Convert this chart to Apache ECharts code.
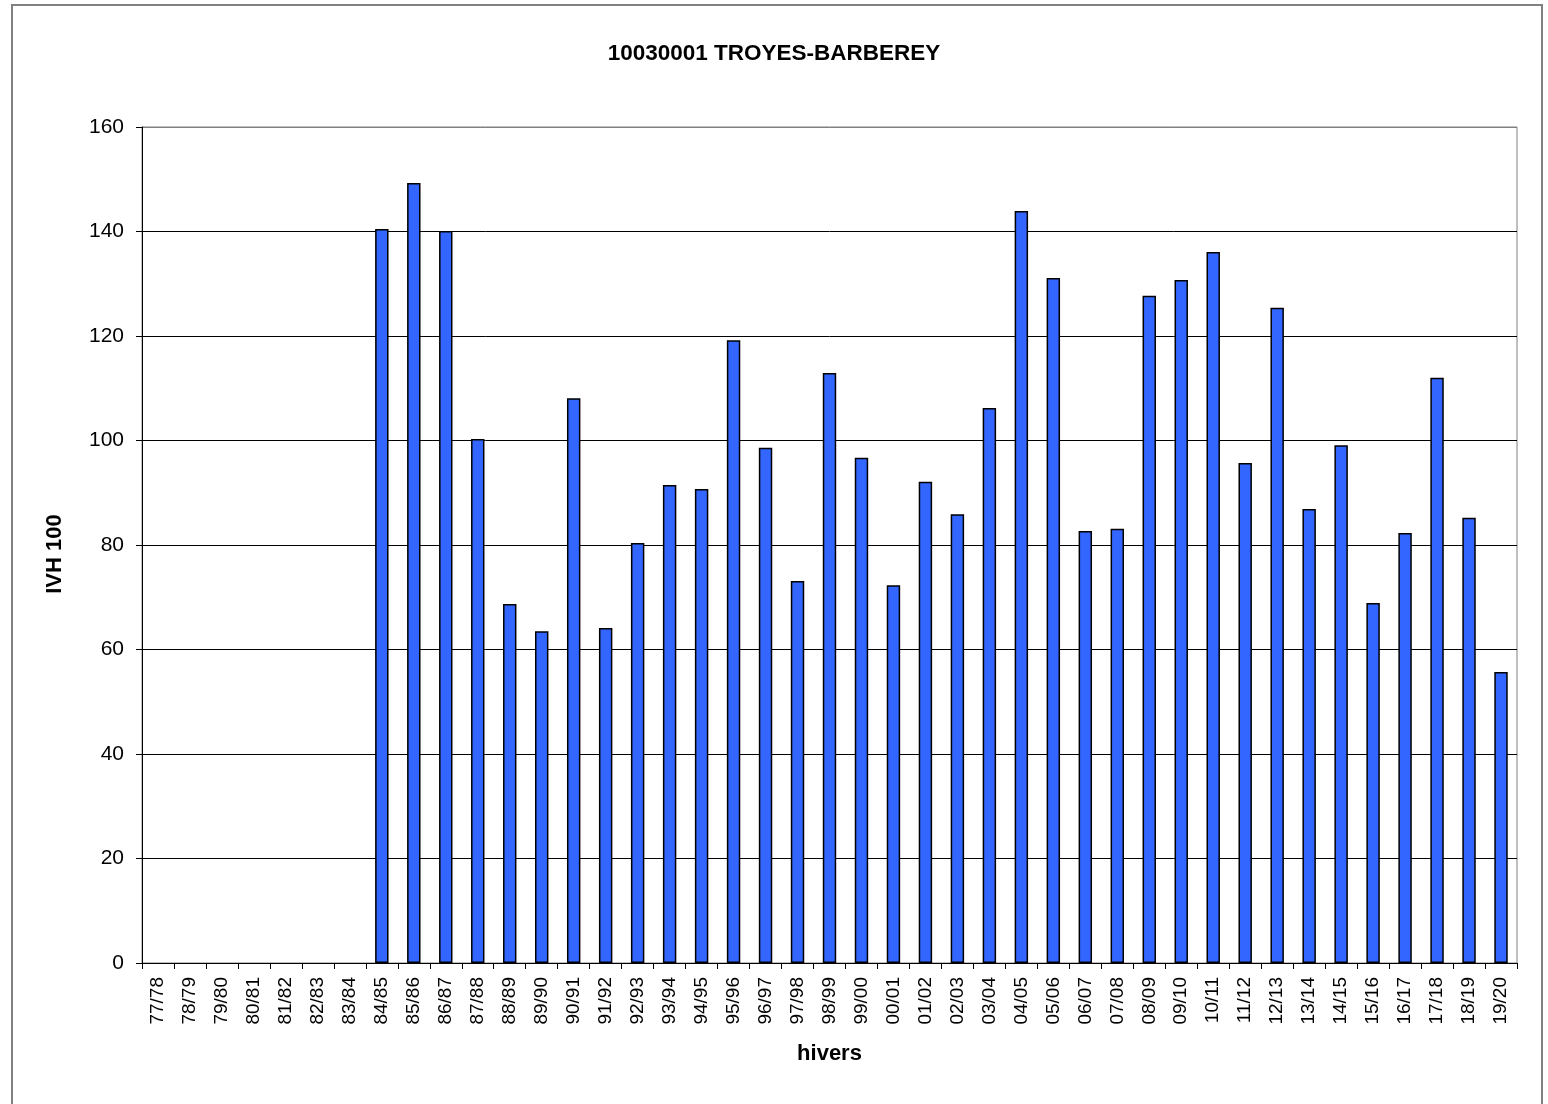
<!DOCTYPE html>
<html><head><meta charset="utf-8">
<script src="https://cdn.jsdelivr.net/npm/echarts@6/dist/echarts.min.js"></script>
<style>html,body{margin:0;padding:0;background:#fff}#c{width:1548px;height:1104px}</style>
</head><body><div id="c"></div>
<script>
const categories = ["77/78","78/79","79/80","80/81","81/82","82/83","83/84","84/85","85/86","86/87","87/88","88/89","89/90","90/91","91/92","92/93","93/94","94/95","95/96","96/97","97/98","98/99","99/00","00/01","01/02","02/03","03/04","04/05","05/06","06/07","07/08","08/09","09/10","10/11","11/12","12/13","13/14","14/15","15/16","16/17","17/18","18/19","19/20"];
const ivh100 = [null,null,null,null,null,null,null,140.5,149.3,140.1,100.3,68.7,63.5,108.1,64.1,80.4,91.5,90.7,119.2,98.6,73.1,112.9,96.7,72.3,92.1,85.9,106.2,143.9,131.1,82.7,83.1,127.7,130.7,136.1,95.7,125.4,86.9,99.1,68.9,82.3,112.0,85.2,55.7];
const yTicks = [0,20,40,60,80,100,120,140,160];
const titleText = "10030001 TROYES-BARBEREY";
const yName = "IVH 100";
const xName = "hivers";

const chart = echarts.init(document.getElementById('c'));
const font = 'Liberation Sans, Arial, sans-serif';
chart.setOption({
  animation:false,
  backgroundColor:'#fff',
  title:{text:titleText,left:'center',top:37,textStyle:{fontFamily:font,fontSize:22.5,fontWeight:'bold',color:'#000'}},
  graphic:[{type:'rect',shape:{x:12,y:5,width:1530,height:1110},style:{fill:'none',stroke:'#808080',lineWidth:2},silent:true}],
  grid:{left:142,right:31,top:127,bottom:141,show:true,borderColor:'#808080',borderWidth:1,backgroundColor:'transparent'},
  xAxis:{type:'category',data:categories,name:xName,nameLocation:'middle',nameGap:80,
    nameTextStyle:{fontFamily:font,fontSize:22,fontWeight:'bold',color:'#000'},
    axisLine:{lineStyle:{color:'#000',width:1}},
    axisTick:{show:true,alignWithLabel:false,length:6,lineStyle:{color:'#000'}},
    axisLabel:{rotate:90,fontFamily:font,fontSize:19,color:'#000',margin:14,interval:0}},
  yAxis:{type:'value',min:yTicks[0],max:yTicks[yTicks.length-1],interval:20,name:yName,nameLocation:'middle',nameGap:76,
    nameTextStyle:{fontFamily:font,fontSize:22,fontWeight:'bold',color:'#000',padding:[0,18,0,0]},
    axisLine:{show:true,lineStyle:{color:'#000'}},
    axisTick:{show:true,length:6,lineStyle:{color:'#000'}},
    axisLabel:{fontFamily:font,fontSize:21,color:'#000',margin:18},
    splitLine:{show:true,lineStyle:{color:['#000','#000','#000','#000','#000','#000','#000','#000','#808080'],width:1}}},
  series:[{type:'bar',data:ivh100,barWidth:'42%',itemStyle:{color:'#3366FF',borderColor:'#000',borderWidth:1.5}}]
});
</script></body></html>
